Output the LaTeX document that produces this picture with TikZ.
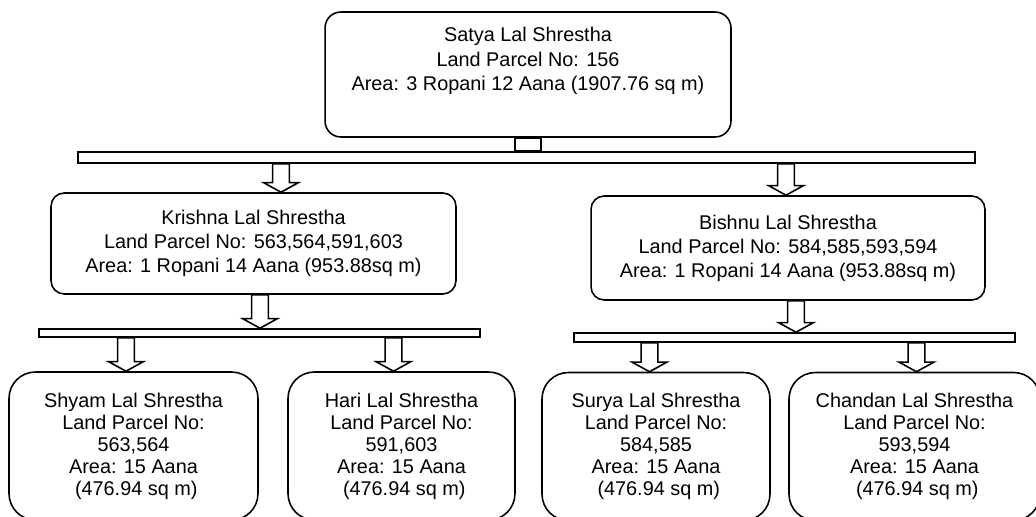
\documentclass[tikz,border=0pt]{standalone}
\usepackage{fontspec}
\setmainfont{Liberation Sans}
\usetikzlibrary{calc,positioning}
\tikzstyle{person} = [rectangle, draw=black, line width=0.9pt, align=center, inner sep=0pt, font=\fontsize{11.3}{13.7}\selectfont]
\tikzstyle{heir} = [person, rounded corners=15pt, minimum height=2.96cm, font=\fontsize{11.3}{12.5}\selectfont]
\tikzstyle{bar} = [rectangle, draw=black, line width=0.9pt, inner sep=0pt]
\tikzstyle{hollow} = [draw=black, line width=0.9pt, fill=white, line join=miter]
% hollow block arrow: #1 x position, #2 start, #3 end
\newcommand{\blockarrow}[3]{%
  \draw[hollow] let \p1=(#1 |- #2), \p2=(#1 |- #3) in
    (\x1-4.8pt,\y1) -- (\x1+4.8pt,\y1) -- (\x1+4.8pt,\y2+5.5pt) -- (\x1+10pt,\y2+5.5pt)
    -- (\x2,\y2) -- (\x1-10pt,\y2+5.5pt) -- (\x1-4.8pt,\y2+5.5pt) -- cycle;}

\begin{document}
\begin{tikzpicture}[x=0.02cm, y=-0.02cm]
\useasboundingbox (0,0) rectangle (1036,517);
\node (satya) [person, rounded corners=9pt, minimum width=8.12cm, minimum height=2.5cm] at (528,74.5) {Satya Lal Shrestha\\Land Parcel No: 156\\Area: 3 Ropani 12 Aana (1907.76 sq m)\\ \strut};
\node (bar1) [bar, minimum width=17.94cm, minimum height=0.22cm] at (526.5,157.5) {};
\node (krishna) [person, rounded corners=7.5pt, minimum width=8.1cm, minimum height=2.02cm] at (253.5,243.5) {Krishna Lal Shrestha\\Land Parcel No: 563,564,591,603\\Area: 1 Ropani 14 Aana (953.88sq m)};
\node (bishnu) [person, rounded corners=7.5pt, minimum width=7.88cm, minimum height=2.08cm] at (788,248) {Bishnu Lal Shrestha\\Land Parcel No: 584,585,593,594\\Area: 1 Ropani 14 Aana (953.88sq m)};
\node (bar2) [bar, minimum width=8.82cm, minimum height=0.16cm] at (259.5,333) {};
\node (bar3) [bar, minimum width=8.82cm, minimum height=0.18cm] at (794.5,337.5) {};
\node (shyam) [heir, minimum width=4.98cm] at (133.5,446) {Shyam Lal Shrestha\\Land Parcel No:\\563,564\\Area: 15 Aana\\~(476.94 sq m)};
\node (hari) [heir, minimum width=4.54cm] at (401.5,446) {Hari Lal Shrestha\\Land Parcel No:\\591,603\\Area: 15 Aana\\~(476.94 sq m)};
\node (surya) [heir, minimum width=4.56cm] at (656,446.5) {Surya Lal Shrestha\\Land Parcel No:\\584,585\\Area: 15 Aana\\~(476.94 sq m)};
\node (chandan) [heir, minimum width=5.02cm] at (914.5,446.5) {Chandan Lal Shrestha\\Land Parcel No:\\593,594\\Area: 15 Aana\\~(476.94 sq m)};

\coordinate (ax1) at (281,0);
\coordinate (ax2) at (786,0);
\coordinate (ax3) at (260,0);
\coordinate (ax4) at (796,0);
\coordinate (ax5) at (126,0);
\coordinate (ax6) at (393.5,0);
\coordinate (ax7) at (649.5,0);
\coordinate (ax8) at (916.5,0);

\draw[hollow] ($(satya.south)+(-13,0)$) rectangle ($(satya.south |- bar1.north)+(13,0)$);
\blockarrow{ax1}{bar1.south}{krishna.north}
\blockarrow{ax2}{bar1.south}{bishnu.north}
\blockarrow{ax3}{krishna.south}{bar2.north}
\blockarrow{ax4}{bishnu.south}{bar3.north}
\blockarrow{ax5}{bar2.south}{shyam.north}
\blockarrow{ax6}{bar2.south}{hari.north}
\blockarrow{ax7}{bar3.south}{surya.north}
\blockarrow{ax8}{bar3.south}{chandan.north}
\end{tikzpicture}
\end{document}
